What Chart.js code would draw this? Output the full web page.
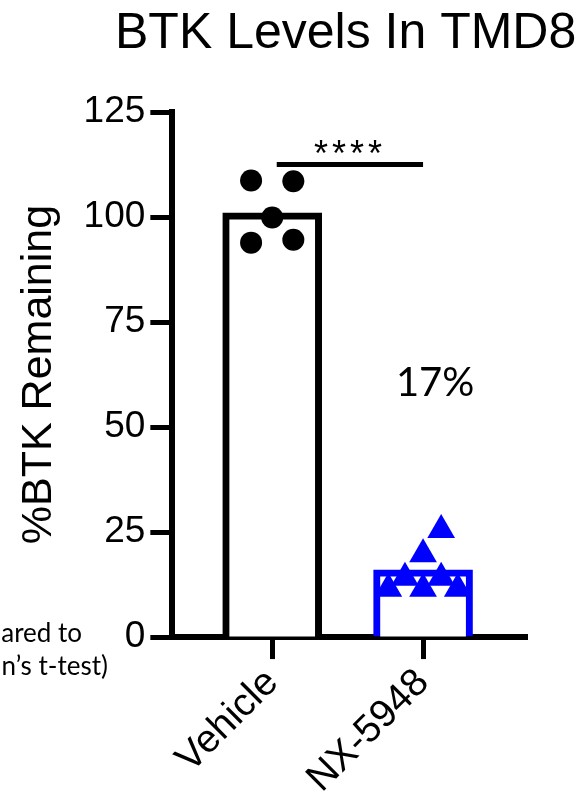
<!DOCTYPE html>
<html>
<head>
<meta charset="utf-8">
<script src="https://cdn.jsdelivr.net/npm/chart.js@4"></script>
<style>
  html, body { margin: 0; padding: 0; background: #fff; }
  #wrap { width: 585px; height: 810px; }
</style>
</head>
<body>
<div id="wrap"><canvas id="chart" width="585" height="810"></canvas></div>
<script>
const categories = ['Vehicle', 'NX-5948'];
const barMeans = [101, 16];
const vehicleJitter = [-0.14, 0.14, 0, -0.14, 0.14];
const vehicleValues = [108.7, 108.5, 99.9, 93.9, 94.6];
const nxJitter = [0.12, 0, -0.12, 0.12, -0.23, 0, 0.23];
const nxValues = [25.5, 19.7, 14.1, 14.1, 11.5, 11.5, 11.5];
const yTicks = [0, 25, 50, 75, 100, 125];
const sigLevel = 112.5;
const pctLabel = '17%';

const arial = 'Liberation Sans';
const calibri = 'Lato';

// extra text: title, significance bar, percentage, cropped footnote
const extras = {
    id: 'extras',
    afterDraw(chart) {
        const ctx = chart.ctx;
        const x = chart.scales.x, y = chart.scales.y;
        ctx.save();
        ctx.fillStyle = '#000';

        ctx.font = '50px "' + arial + '"';
        ctx.textAlign = 'left';
        ctx.textBaseline = 'alphabetic';
        ctx.fillText('BTK Levels In TMD8', 115, 48);

        // significance bar
        const sy = y.getPixelForValue(sigLevel);
        ctx.strokeStyle = '#000';
        ctx.lineWidth = 5;
        ctx.beginPath();
        ctx.moveTo(x.getPixelForValue(0.03), sy);
        ctx.lineTo(x.getPixelForValue(1), sy);
        ctx.stroke();
        ctx.font = '36px "' + arial + '"';
        ctx.textAlign = 'center';
        ctx.letterSpacing = '4px';
        ctx.fillText('****', x.getPixelForValue(0.503) + 2, sy + 1);
        ctx.letterSpacing = '0px';

        ctx.font = '40px "' + calibri + '"';
        ctx.fillText(pctLabel, x.getPixelForValue(1.08), y.getPixelForValue(57.4));

        ctx.font = '26px "' + calibri + '"';
        ctx.textAlign = 'right';
        ctx.fillText('ared to', 82, 642);
        ctx.fillText('n\u2019s t-test)', 108, 675);
        ctx.restore();
    }
};

new Chart(document.getElementById('chart'), {
    type: 'bar',
    data: {
        datasets: [
            {
                type: 'scatter',
                data: vehicleValues.map((v, i) => ({ x: 0 + vehicleJitter[i], y: v })),
                pointStyle: 'circle',
                pointRadius: 11,
                backgroundColor: '#000',
                borderWidth: 0,
                order: 0
            },
            {
                type: 'scatter',
                data: nxValues.map((v, i) => ({ x: 1 + nxJitter[i], y: v })),
                pointStyle: 'triangle',
                pointRadius: 16,
                backgroundColor: '#0000ff',
                borderWidth: 0,
                order: 0
            },
            {
                type: 'bar',
                data: barMeans.map((v, i) => ({ x: i, y: v })),
                backgroundColor: '#fff',
                borderColor: ['#000', '#0000ff'],
                borderWidth: 7,
                barThickness: 99,
                order: 1
            }
        ]
    },
    options: {
        responsive: false,
        animation: false,
        layout: { padding: { top: 112, right: 58, left: 13, bottom: 7 } },
        plugins: {
            legend: { display: false },
            tooltip: { enabled: false }
        },
        scales: {
            x: {
                type: 'linear',
                offset: false,
                min: -0.662,
                max: 1.689,
                afterBuildTicks: s => { s.ticks = categories.map((c, i) => ({ value: i })); },
                ticks: {
                    callback: v => categories[v],
                    minRotation: 45,
                    maxRotation: 45,
                    color: '#000',
                    padding: 1,
                    font: { family: arial, size: 39 }
                },
                grid: { offset: false, drawOnChartArea: false, drawTicks: true, tickLength: 22, tickWidth: 5, tickColor: '#000' },
                border: { display: true, width: 6, color: '#000' }
            },
            y: {
                min: 0,
                max: 125,
                afterBuildTicks: s => { s.ticks = yTicks.map(v => ({ value: v })); },
                ticks: {
                    color: '#000',
                    padding: 5,
                    font: { family: arial, size: 37 }
                },
                grid: { drawOnChartArea: false, drawTicks: true, tickLength: 22, tickWidth: 5, tickColor: '#000' },
                border: { display: true, width: 6, color: '#000' },
                title: {
                    display: true,
                    text: '%BTK Remaining',
                    color: '#000',
                    padding: { top: 0, bottom: 14 },
                    font: { family: arial, size: 43 }
                }
            }
        }
    },
    plugins: [extras]
});
</script>
</body>
</html>
